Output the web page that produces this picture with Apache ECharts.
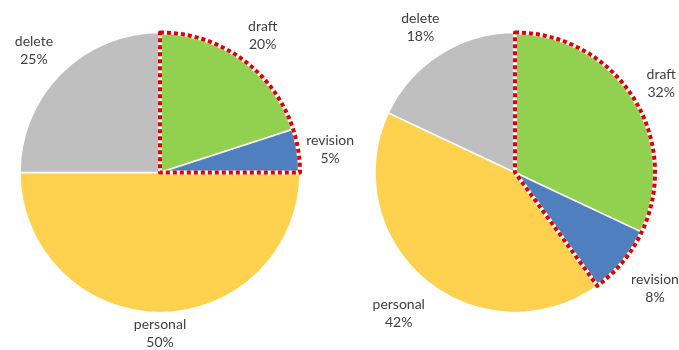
<!DOCTYPE html>
<html>
<head>
<meta charset="utf-8">
<script src="https://cdn.jsdelivr.net/npm/echarts@6/dist/echarts.min.js"></script>
<style>
  html, body { margin: 0; padding: 0; background: #ffffff; }
  #chart { width: 679px; height: 350px; }
</style>
</head>
<body>
<div id="chart"></div>
<script>
// Slice categories, in clockwise order starting at 12 o'clock
const categories = ['draft', 'revision', 'personal', 'delete'];
// Percentage shares for the two pies
const leftShares = [20, 5, 50, 25];
const rightShares = [32, 8, 42, 18];
// Categories whose combined wedge gets the dotted red outline
const outlined = ['draft', 'revision'];

const sliceColors = {
  draft: '#92D050',
  revision: '#4F7FBE',
  personal: '#FED14E',
  delete: '#BFBFBF'
};

const RADIUS = 140;
const LEFT_CENTER = [160, 172.5];
const RIGHT_CENTER = [515, 172.5];

// Put each label just outside the arc, centred on the slice's mid-angle direction
function placeOutside(p) {
  const pts = p.labelLinePoints;
  if (!pts || pts.length < 2) return {};
  const ax = pts[0][0], ay = pts[0][1];
  let dx = pts[1][0] - ax, dy = pts[1][1] - ay;
  const len = Math.hypot(dx, dy) || 1;
  dx /= len; dy /= len;
  const w = p.labelRect.width, h = p.labelRect.height;
  const d = Math.abs(dx) * w / 2 + Math.abs(dy) * h / 2 + 3 + 18 * Math.abs(dx * dy);
  // labels above the centre sit a little lower, closer to the rim
  const lift = dy < 0 ? 4 : 0;
  return { x: ax + dx * d, y: ay + dy * d + lift, align: 'center', verticalAlign: 'middle' };
}

function sliceSeries(center, shares) {
  return {
    type: 'pie',
    center: center,
    radius: RADIUS,
    startAngle: 90,
    clockwise: true,
    silent: true,
    avoidLabelOverlap: false,
    minShowLabelAngle: 0,
    data: categories.map((c, i) => ({
      name: c,
      value: shares[i],
      itemStyle: { color: sliceColors[c] }
    })),
    itemStyle: { borderColor: '#ffffff', borderWidth: 1.5 },
    label: {
      show: true,
      position: 'outside',
      formatter: '{b}\n{c}%',
      color: '#404040',
      fontFamily: 'Lato, "Open Sans", sans-serif',
      fontSize: 14,
      lineHeight: 18
    },
    labelLine: { show: true, length: 10, length2: 0, lineStyle: { width: 0, opacity: 0 } },
    labelLayout: placeOutside,
    emphasis: { disabled: true }
  };
}

function outlineSeries(center, shares, stroke) {
  let inside = 0, outside = 0;
  categories.forEach((c, i) => {
    if (outlined.includes(c)) inside += shares[i]; else outside += shares[i];
  });
  return {
    type: 'pie',
    center: center,
    radius: RADIUS,
    startAngle: 90,
    clockwise: true,
    silent: true,
    label: { show: false },
    labelLine: { show: false },
    emphasis: { disabled: true },
    data: [
      {
        value: inside,
        itemStyle: Object.assign({ color: 'rgba(0,0,0,0)', borderCap: 'butt' }, stroke)
      },
      {
        value: outside,
        itemStyle: { color: 'rgba(0,0,0,0)', borderWidth: 0 }
      }
    ]
  };
}

const whiteUnder = { borderColor: '#ffffff', borderWidth: 4, borderType: 'solid' };
const redDots = { borderColor: '#E00000', borderWidth: 4, borderType: [4, 3] };

const chart = echarts.init(document.getElementById('chart'), null, { renderer: 'canvas' });
chart.setOption({
  animation: false,
  backgroundColor: '#ffffff',
  series: [
    sliceSeries(LEFT_CENTER, leftShares),
    outlineSeries(LEFT_CENTER, leftShares, whiteUnder),
    outlineSeries(LEFT_CENTER, leftShares, redDots),
    sliceSeries(RIGHT_CENTER, rightShares),
    outlineSeries(RIGHT_CENTER, rightShares, whiteUnder),
    outlineSeries(RIGHT_CENTER, rightShares, redDots)
  ]
});
</script>
</body>
</html>
